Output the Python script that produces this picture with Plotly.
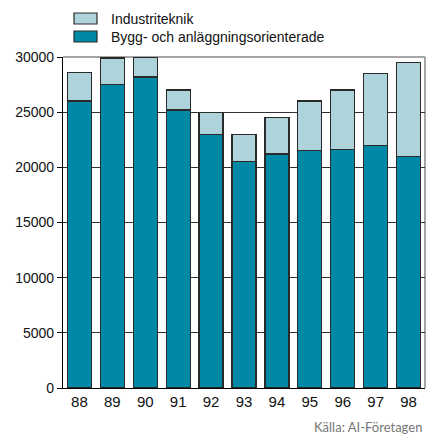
import plotly.graph_objects as go

years = ["88", "89", "90", "91", "92", "93", "94", "95", "96", "97", "98"]
bygg = [26000, 27500, 28200, 25200, 23000, 20500, 21200, 21500, 21600, 22000, 21000]
industri = [2600, 2400, 1800, 1800, 2000, 2500, 3300, 4500, 5400, 6500, 8500]
y_ticks = [0, 5000, 10000, 15000, 20000, 25000, 30000]
name_industri = "Industriteknik"
name_bygg = "Bygg- och anläggningsorienterade"
source = "Källa: AI-Företagen"

dark = "#0089A6"
light = "#AED3DA"
outline = "#2a2a2a"

W, H = 428, 439
L, R, T, B = 63, 3, 57, 51
PW, PH = W - L - R, H - T - B

fig = go.Figure()
fig.add_trace(go.Bar(x=years, y=bygg, name=name_bygg, marker=dict(color=dark, line=dict(color=outline, width=1.3))))
fig.add_trace(go.Bar(x=years, y=industri, name=name_industri, marker=dict(color=light, line=dict(color=outline, width=1.3))))

font = "Liberation Sans, Arial, sans-serif"
fig.update_layout(
    barmode="stack",
    bargap=0.27,
    width=W, height=H,
    margin=dict(l=L, r=R, t=T, b=B),
    paper_bgcolor="white", plot_bgcolor="white",
    showlegend=False,
    font=dict(family=font, color="#111"),
    xaxis=dict(showline=True, linecolor="black", linewidth=1.2, ticks="", tickfont=dict(size=15),
               showgrid=False, fixedrange=True),
    yaxis=dict(range=[0, 30000], tickvals=y_ticks, ticktext=[str(v) for v in y_ticks],
               showline=True, linecolor="black", linewidth=1.2, ticks="outside", ticklen=5,
               tickcolor="black", tickfont=dict(size=14), showgrid=True, gridcolor="#333",
               gridwidth=1, zeroline=False, fixedrange=True),
)

# plot frame (top and right, gray)
fig.add_shape(type="line", xref="paper", yref="paper", x0=0, x1=1, y0=1, y1=1,
              line=dict(color="#888", width=1.5), layer="below")
fig.add_shape(type="line", xref="paper", yref="paper", x0=1, x1=1, y0=0, y1=1,
              line=dict(color="#888", width=1.5), layer="below")

# page pixel -> paper (plot-area) coordinates
def px_x(x):
    return (x - L) / PW

def px_y(y):
    return (H - B - y) / PH

for (label, col, ytop) in [(name_industri, light, 13), (name_bygg, dark, 31)]:
    fig.add_shape(type="rect", xref="paper", yref="paper",
                  x0=px_x(74), x1=px_x(97), y0=px_y(ytop + 11), y1=px_y(ytop),
                  fillcolor=col, line=dict(color=outline, width=1.2))
    fig.add_annotation(xref="paper", yref="paper", x=px_x(109), y=px_y(ytop + 5.5),
                       text=label, showarrow=False, xanchor="left", yanchor="middle",
                       font=dict(size=14, family=font, color="#111"))

fig.add_annotation(xref="paper", yref="paper", x=px_x(424), y=px_y(427),
                   text=source, showarrow=False, xanchor="right", yanchor="middle",
                   font=dict(size=13, family="Lato, sans-serif", color="#777"))

fig.write_html("out.html", config={"displayModeBar": False},
               post_script="document.body.style.margin='0';")
